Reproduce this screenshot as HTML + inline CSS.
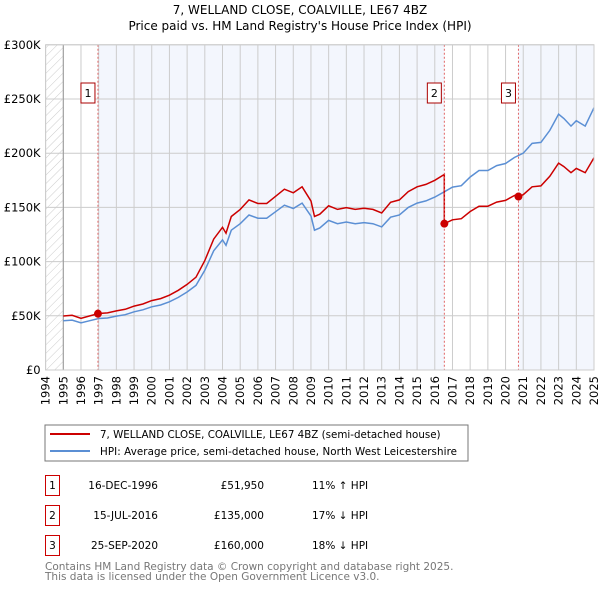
<!DOCTYPE html>
<html><head><meta charset="utf-8"><style>
body{margin:0;background:#fff;}
svg{display:block;font-family:"DejaVu Sans","Liberation Sans",sans-serif;}
</style></head><body>
<svg id="chart" width="600" height="590" viewBox="0 0 600 590">
<defs><pattern id="hatch" width="6" height="6" patternUnits="userSpaceOnUse" patternTransform="rotate(45)"><line x1="0" y1="0" x2="0" y2="6" stroke="#ccc" stroke-width="1"/></pattern></defs>
<text x="300" y="14" text-anchor="middle" font-size="12">7, WELLAND CLOSE, COALVILLE, LE67 4BZ</text>
<text x="300" y="30" text-anchor="middle" font-size="12">Price paid vs. HM Land Registry's House Price Index (HPI)</text>
<g id="plot"></g>
<rect x="45" y="425" width="423" height="36" fill="#fff" stroke="#777"/>
<line x1="50" y1="434" x2="90" y2="434" stroke="#cc0000" stroke-width="2"/>
<text x="100" y="438" font-size="10.3">7, WELLAND CLOSE, COALVILLE, LE67 4BZ (semi-detached house)</text>
<line x1="50" y1="451" x2="90" y2="451" stroke="#5b8fd4" stroke-width="2"/>
<text x="100" y="455" font-size="10.3" textLength="357">HPI: Average price, semi-detached house, North West Leicestershire</text>
<g id="table" font-size="10.5"></g>
<text x="45" y="570" font-size="10.5" fill="#777">Contains HM Land Registry data © Crown copyright and database right 2025.</text>
<text x="45" y="580" font-size="10.5" fill="#777">This data is licensed under the Open Government Licence v3.0.</text>
</svg>
<script>
const hpiYears=[1995,1995.5,1996,1996.5,1997,1997.5,1998,1998.5,1999,1999.5,2000,2000.5,2001,2001.5,2002,2002.5,2003,2003.5,2004,2004.2,2004.5,2005,2005.5,2006,2006.5,2007,2007.5,2008,2008.5,2009,2009.2,2009.5,2010,2010.5,2011,2011.5,2012,2012.5,2013,2013.5,2014,2014.5,2015,2015.5,2016,2016.5,2017,2017.5,2018,2018.5,2019,2019.5,2020,2020.5,2021,2021.5,2022,2022.5,2023,2023.3,2023.7,2024,2024.5,2025];
const hpiValues=[45400,46000,43500,45500,47500,48000,49700,51000,53700,55500,58300,60000,62900,67000,72000,78000,92000,110000,120000,115000,129000,135000,143000,140000,140000,146000,152000,149000,154000,142000,129000,131000,138000,135000,136500,135000,136000,135000,132000,141000,143000,150000,154000,156000,159500,164000,168700,170000,178000,184000,184000,188600,190500,196000,200000,209000,210000,221000,236000,232000,225000,230000,225000,242000];
const saleYears=[1996.96,2016.54,2020.73];
const salePrices=[51950,135000,160000];
const saleLabels=["1","2","3"];
const saleDates=["16-DEC-1996","15-JUL-2016","25-SEP-2020"];
const salePriceText=["£51,950","£135,000","£160,000"];
const saleDiffs=["11% ↑ HPI","17% ↓ HPI","18% ↓ HPI"];
const yTicks=[0,50000,100000,150000,200000,250000,300000];
const yTickLabels=["£0","£50K","£100K","£150K","£200K","£250K","£300K"];
const xTicks=[1994,1995,1996,1997,1998,1999,2000,2001,2002,2003,2004,2005,2006,2007,2008,2009,2010,2011,2012,2013,2014,2015,2016,2017,2018,2019,2020,2021,2022,2023,2024,2025];

const X0=45.6,X1=594,Y0=370,Y1=44.8;
const xs=t=>X0+(t-1994)/31*(X1-X0);
const ys=v=>Y0-v/300000*(Y0-Y1);
const NS="http://www.w3.org/2000/svg";
const plot=document.getElementById('plot');
function mk(tag,attrs,parent){const e=document.createElementNS(NS,tag);for(const k in attrs)e.setAttribute(k,attrs[k]);(parent||plot).appendChild(e);return e;}
function hpiAt(t){for(let i=0;i<hpiYears.length-1;i++){if(t<=hpiYears[i+1]){const f=(t-hpiYears[i])/(hpiYears[i+1]-hpiYears[i]);return hpiValues[i]+f*(hpiValues[i+1]-hpiValues[i]);}}return hpiValues[hpiValues.length-1];}

let e;
e=mk('rect',{x:X0,y:Y1,width:X1-X0,height:Y0-Y1,fill:'#fff'});


e=mk('rect',{x:X0,y:Y1,width:xs(1995)-X0,height:Y0-Y1,fill:'url(#hatch)'});


e=mk('rect',{x:xs(saleYears[0]),y:Y1,width:xs(saleYears[1])-xs(saleYears[0]),height:Y0-Y1,fill:'#f3f6fd'});


e=mk('rect',{x:xs(saleYears[2]),y:Y1,width:X1-xs(saleYears[2]),height:Y0-Y1,fill:'#f3f6fd'});



xTicks.forEach(t=>{
 e=mk('line',{x1:xs(t),x2:xs(t),y1:Y1,y2:Y0,stroke:'#ccc','stroke-width':1});
 
 
 e=mk('text',{x:0,y:0,'font-size':11.5,'text-anchor':'end',transform:`translate(${xs(t)+4},${Y0+6}) rotate(-90)`});
 e.textContent=t;
 
 
});
yTicks.forEach((v,i)=>{
 e=mk('line',{x1:X0,x2:X1,y1:ys(v),y2:ys(v),stroke:'#ccc','stroke-width':1});
 
 
 e=mk('text',{x:X0-5,y:ys(v)+4,'font-size':11.5,'text-anchor':'end'});
 e.textContent=yTickLabels[i];
 
 
});
e=mk('line',{x1:xs(1995),x2:xs(1995),y1:Y1,y2:Y0,stroke:'#999'});



let d=hpiYears.map((t,i)=>(i?'L':'M')+xs(t).toFixed(1)+','+ys(hpiValues[i]).toFixed(1)).join('');
e=mk('path',{d:d,fill:'none',stroke:'#5b8fd4','stroke-width':1.5});



const pts=[];
const ratios=saleYears.map((t,i)=>salePrices[i]/hpiAt(t));
function segPts(a,b,r){const out=[[a,hpiAt(a)*r]];hpiYears.forEach(t=>{if(t>a&&t<b)out.push([t,hpiAt(t)*r]);});out.push([b,hpiAt(b)*r]);return out;}
const bounds=[1995,saleYears[1],saleYears[2],2025];
for(let s=0;s<3;s++){segPts(bounds[s],bounds[s+1],ratios[s]).forEach(p=>pts.push(p));}
d=pts.map((p,i)=>(i?'L':'M')+xs(p[0]).toFixed(1)+','+ys(p[1]).toFixed(1)).join('');
e=mk('path',{d:d,fill:'none',stroke:'#cc0000','stroke-width':1.5});



saleYears.forEach((t,i)=>{
 e=mk('line',{x1:xs(t),x2:xs(t),y1:Y1,y2:Y0,stroke:'#e06666','stroke-dasharray':'2,2','stroke-width':1});
 
 
 e=mk('circle',{cx:xs(t),cy:ys(salePrices[i]),r:4,fill:'#cc0000'});
 
 
 e=mk('rect',{x:xs(t)-17,y:83,width:14,height:20,fill:'#fff',stroke:'#aa0000'});
 
 
 e=mk('text',{x:xs(t)-10,y:97,'font-size':11,'text-anchor':'middle'});
 e.textContent=saleLabels[i];
 
 
});
e=mk('rect',{x:X0,y:Y1,width:X1-X0,height:Y0-Y1,fill:'none',stroke:'#ccc'});



const tbl=document.getElementById('table');
saleYears.forEach((t,i)=>{
 const y=475+i*30;
 e=mk('rect',{x:45.5,y:y+0.5,width:14,height:20,fill:'#fff',stroke:'#cc0000'},tbl);
 
 
 e=mk('text',{x:52.5,y:y+14,'text-anchor':'middle'},tbl);
 e.textContent=saleLabels[i];
 
 
 e=mk('text',{x:158,y:y+14,'text-anchor':'end'},tbl);
 e.textContent=saleDates[i];
 
 
 e=mk('text',{x:264,y:y+14,'text-anchor':'end'},tbl);
 e.textContent=salePriceText[i];
 
 
 e=mk('text',{x:312,y:y+14},tbl);
 e.textContent=saleDiffs[i];
 
 
});
</script>
</body></html>
